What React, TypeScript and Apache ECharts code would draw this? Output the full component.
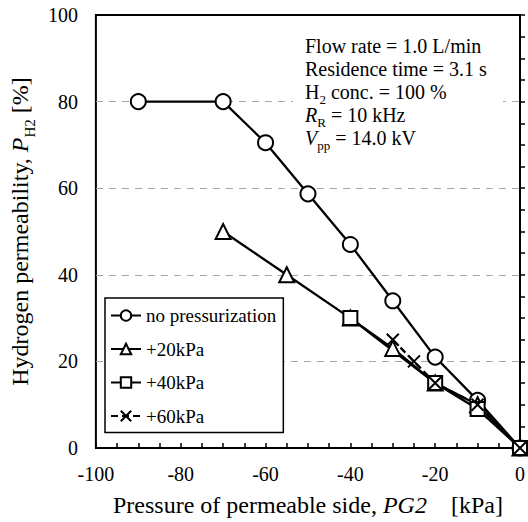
import React, { useEffect, useRef } from "react";
import * as echarts from "echarts";

const seriesNames = ["no pressurization", "+20kPa", "+40kPa", "+60kPa"];
const noPressX = [-90, -70, -60, -50, -40, -30, -20, -10, 0];
const noPressY = [80, 80, 70.5, 58.7, 47, 34, 21, 11, 0];
const p20X = [-70, -55, -40, -30, -20, -10, 0];
const p20Y = [50, 40, 30, 23, 15, 10, 0];
const p40X = [-40, -20, -10, 0];
const p40Y = [30, 15, 9, 0];
const p60X = [-30, -25, -20, -10, 0];
const p60Y = [25, 20, 15, 10, 0];
const xTicks = [-100, -80, -60, -40, -20, 0];
const yTicks = [0, 20, 40, 60, 80, 100];
const notes = [
  "{n|Flow rate = 1.0 L/min}",
  "{n|Residence time = 3.1 s}",
  "{n|H}{s|2}{n| conc. = 100 %}",
  "{i|R}{s|R}{n| = 10 kHz}",
  "{i|V}{s|pp}{n| = 14.0 kV}",
];

const FONT = "'Liberation Serif', 'Times New Roman', serif";

function zip(xs: number[], ys: number[]) {
  return xs.map((x, i) => [x, ys[i]]);
}

export default function App() {
  const ref = useRef<HTMLDivElement>(null);
  useEffect(() => {
    if (!ref.current) return;
    const chart = echarts.init(ref.current, undefined, { renderer: "svg" });
    const markerStyle = { color: "#fff", borderColor: "#000", borderWidth: 2 };
    const mk = (name: string, data: number[][], symbol: string, size: number, dashed = false) => ({
      name,
      type: "line",
      data,
      symbol,
      symbolSize: size,
      showAllSymbol: true,
      lineStyle: { color: "#000", width: 2.3, type: dashed ? [7, 4] : "solid" },
      itemStyle: markerStyle,
      z: 3,
    });
    const rich = {
      n: { fontSize: 20, fontFamily: FONT, color: "#000", verticalAlign: "bottom" },
      i: { fontSize: 20, fontFamily: FONT, color: "#000", fontStyle: "italic", verticalAlign: "bottom" },
      s: { fontSize: 13, fontFamily: FONT, color: "#000", verticalAlign: "bottom", padding: [0, 0, -4, 0] },
    };
    chart.setOption({
      animation: false,
      grid: {
        left: 90,
        right: 7,
        top: 15,
        bottom: 69,
        show: true,
        borderColor: "#000",
        borderWidth: 2,
        backgroundColor: "transparent",
      },
      xAxis: {
        type: "value",
        min: xTicks[0],
        max: xTicks[xTicks.length - 1],
        interval: 20,
        axisLine: { lineStyle: { color: "#000", width: 2 } },
        axisTick: { show: true, inside: true, length: 5, lineStyle: { color: "#000", width: 1.5 } },
        minorTick: { show: true, splitNumber: 4, length: 5, lineStyle: { color: "#000", width: 1.5 } },
        splitLine: { show: false },
        axisLabel: { color: "#000", fontSize: 20, fontFamily: FONT, margin: 16 },
        name: "{n|Pressure of permeable side, }{i|PG2}{n|    [kPa]}",
        nameLocation: "middle",
        nameGap: 45,
        nameTextStyle: {
          rich: {
            n: { fontSize: 24, fontFamily: FONT, color: "#000" },
            i: { fontSize: 24, fontFamily: FONT, color: "#000", fontStyle: "italic" },
          },
        },
      },
      yAxis: {
        type: "value",
        min: yTicks[0],
        max: yTicks[yTicks.length - 1],
        interval: 20,
        axisLine: { lineStyle: { color: "#000", width: 2 } },
        axisTick: { show: true, inside: true, length: 5, lineStyle: { color: "#000", width: 1.5 } },
        minorTick: { show: true, splitNumber: 4, length: 5, lineStyle: { color: "#000", width: 1.5 } },
        splitLine: {
          show: true,
          showMinLine: false,
          showMaxLine: false,
          lineStyle: { color: "#a6a6a6", type: [7, 6], width: 1.2 },
        },
        axisLabel: { color: "#000", fontSize: 20, fontFamily: FONT, margin: 18 },
        name: "{n|Hydrogen permeability, }{i|P}{s|H2}{n| [%]}",
        nameLocation: "middle",
        nameGap: 54,
        nameRotate: 90,
        nameTextStyle: {
          rich: {
            n: { fontSize: 24, fontFamily: FONT, color: "#000", verticalAlign: "bottom" },
            i: { fontSize: 24, fontFamily: FONT, color: "#000", fontStyle: "italic", verticalAlign: "bottom" },
            s: { fontSize: 15, fontFamily: FONT, color: "#000", verticalAlign: "bottom", padding: [0, 0, -5, 0] },
          },
        },
      },
      legend: {
        orient: "vertical",
        left: 105,
        top: 298,
        padding: [8, 7, 7, 5],
        itemGap: 14.5,
        itemWidth: 30,
        itemHeight: 13,
        backgroundColor: "#fff",
        borderColor: "#000",
        borderWidth: 1.5,
        borderRadius: 0,
        textStyle: { fontSize: 19, fontFamily: FONT, color: "#000" },
        data: seriesNames,
      },
      graphic: [
        {
          type: "rect",
          shape: { x: 293, y: 28, width: 210, height: 130 },
          style: { fill: "#fff" },
          z: 1,
        },
        ...notes.map((t, i) => ({
          type: "text",
          x: 305,
          y: 36 + i * 23,
          style: { text: t, rich, fontSize: 20, fontFamily: FONT, fill: "#000" },
          z: 10,
        })),
      ],
      series: [
        mk(seriesNames[0], zip(noPressX, noPressY), "circle", 15),
        mk(seriesNames[1], zip(p20X, p20Y), "triangle", 15),
        mk(seriesNames[2], zip(p40X, p40Y), "rect", 14),
        mk(seriesNames[3], zip(p60X, p60Y), "path://M0,0L10,10M0,10L10,0", 12, true),
      ],
    });
    return () => chart.dispose();
  }, []);
  return (
    <div
      ref={ref}
      style={{ position: "absolute", left: 0, top: 0, width: 528, height: 522 }}
    />
  );
}
